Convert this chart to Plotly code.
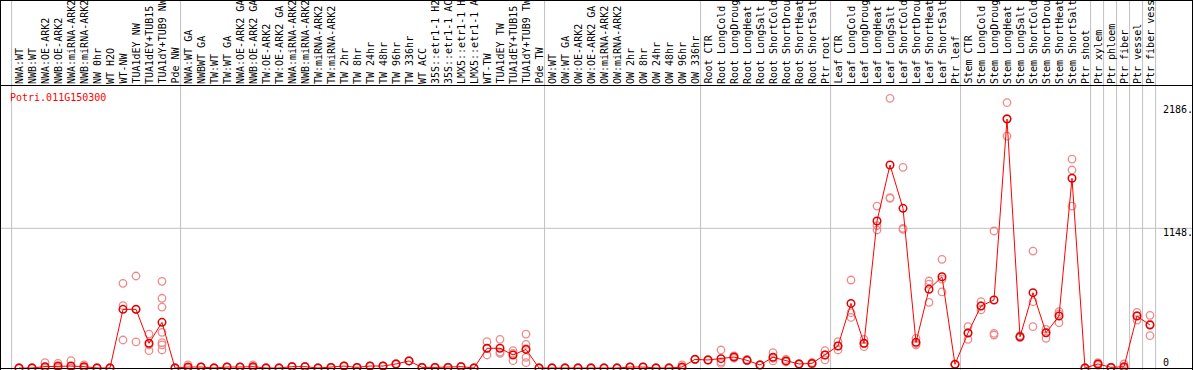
import plotly.graph_objects as go

W, H = 1194, 370

gene_id = "Potri.011G150300"

labels = [
    "NWA:WT", "NWB:WT", "NWA:OE-ARK2", "NWB:OE-ARK2", "NWA:miRNA-ARK2", "NWB:miRNA-ARK2",
    "NW 0hr", "WT H2O", "WT-NW", "TUA1dEY NW", "TUA1dEY+TUB15", "TUA1dY+TUB9 NW", "Pde NW",
    "NWA:WT GA", "NWBWT GA", "TW:WT", "TW:WT GA", "NWA:OE-ARK2 GA", "NWB:OE-ARK2 GA",
    "TW:OE-ARK2", "TW:OE-ARK2 GA", "NWA:miRNA-ARK2", "NWB:miRNA-ARK2", "TW:miRNA-ARK2",
    "TW:miRNA-ARK2", "TW 2hr", "TW 8hr", "TW 24hr", "TW 48hr", "TW 96hr", "TW 336hr", "WT ACC",
    "35S::etr1-1 H2", "35S::etr1-1 AC", "LMX5::etr1-1 H", "LMX5::etr1-1 A", "WT-TW",
    "TUA1dEY TW", "TUA1dEY+TUB15", "TUA1dY+TUB9 TW", "Pde TW",
    "OW:WT", "OW:WT GA", "OW:OE-ARK2", "OW:OE-ARK2 GA", "OW:miRNA-ARK2", "OW:miRNA-ARK2",
    "OW 2hr", "OW 8hr", "OW 24hr", "OW 48hr", "OW 96hr", "OW 336hr",
    "Root CTR", "Root LongCold", "Root LongDroug", "Root LongHeat", "Root LongSalt",
    "Root ShortCold", "Root ShortDrou", "Root ShortHeat", "Root ShortSalt", "Ptr root",
    "Leaf CTR", "Leaf LongCold", "Leaf LongDroug", "Leaf LongHeat", "Leaf LongSalt",
    "Leaf ShortCold", "Leaf ShortDrou", "Leaf ShortHeat", "Leaf ShortSalt", "Ptr leaf",
    "Stem CTR", "Stem LongCold", "Stem LongDroug", "Stem LongHeat", "Stem LongSalt",
    "Stem ShortCold", "Stem ShortDrou", "Stem ShortHeat", "Stem ShortSalt", "Ptr shoot",
    "Ptr xylem", "Ptr phloem", "Ptr fiber", "Ptr vessel", "Ptr fiber vess",
]

mean_values = [
    0, 0, 11, 16, 16, 11, 0, 0, 482, 482, 203, 375, 0,
    8, 8, 0, 8, 8, 11, 0, 0, 11, 11, 0, 5, 16, 5, 16, 16, 33, 58, 5, 5, 5, 11, 0,
    162, 162, 107, 153, 0,
    0, 0, 0, 0, 0, 0, 8, 8, 0, 0, 8, 71,
    66, 77, 90, 63, 25, 88, 58, 33, 38, 107,
    181, 531, 203, 1208, 1668, 1312, 211, 647, 750, 30,
    288, 509, 559, 2046, 257, 619, 290, 427, 1559, 0,
    33, 5, 11, 427, 353,
]

replicates = [
    [0, 0, 0], [0, 0, 0], [44, 0, 0], [38, 8, 0], [60, 0, 0], [25, 8, 0], [0, 0, 0], [0, 0, 0],
    [696, 512, 230], [756, 482, 214], [279, 190, 142], [712, 573, 501, 293, 208, 190, 148],
    [0, 0, 0],
    [25, 0, 0], [8, 8, 8], [0, 0, 0], [8, 8, 8], [8, 8, 8], [25, 8, 0], [0, 0, 0], [0, 0, 0],
    [11, 11, 11], [11, 11, 11], [0, 0, 0], [5, 5, 5], [16, 16, 16], [5, 5, 5], [16, 16, 16],
    [16, 16, 16], [33, 33, 33], [58, 58, 58], [5, 5, 5], [5, 5, 5], [5, 5, 5], [11, 11, 11],
    [0, 0, 0], [216, 162, 107], [236, 130, 121], [142, 120, 60], [279, 194, 160, 88, 44],
    [0, 0, 0],
    [0, 0, 0], [0, 0, 0], [0, 0, 0], [0, 0, 0], [0, 0, 0], [0, 0, 0], [8, 8, 8], [8, 8, 8],
    [0, 0, 0], [0, 0, 0], [25, 0, 0], [71, 71, 71],
    [66, 66, 66], [148, 50, 38], [100, 90, 80], [70, 60, 60], [25, 25, 25], [126, 80, 58],
    [70, 55, 50], [33, 33, 33], [45, 38, 31], [142, 107, 66],
    [216, 181, 148], [723, 455, 416], [236, 200, 175], [1331, 1170, 1134], [2216, 1400, 1394],
    [1649, 1148, 1140], [244, 200, 189], [715, 690, 540], [893, 730, 625], [30, 30, 30],
    [340, 290, 236], [545, 510, 477], [1126, 285, 271], [2180, 2050, 1906], [265, 257, 250],
    [961, 545, 340], [318, 290, 244], [463, 445, 372], [1717, 1627, 1331], [0, 0, 0],
    [44, 33, 22], [5, 5, 5], [33, 0, 0], [457, 430, 394], [433, 360, 266],
]

# group boundaries (after these category indices), plus one before the first
group_ends = [-1, 12, 40, 52, 62, 72, 82, 83, 84, 85, 86, 87]

y_tick_labels = ["2186.", "1148.", "0"]
grid_value = 1148

# ---- pixel geometry helpers (layout only) ----
X0_PX, DX_PX = 19.0, 13.0          # pixel of first category, spacing
Y0_PX, SCALE = 368.0, 0.12169       # pixel of value 0, px per unit


def px(x):
    return x / W


def py(y):
    return 1 - y / H


x_idx = list(range(len(labels)))

rx, ry = [], []
for i, vals in enumerate(replicates):
    for v in vals:
        rx.append(i)
        ry.append(v)

fig = go.Figure()
fig.add_trace(go.Scatter(
    x=rx, y=ry, mode="markers",
    marker=dict(symbol="circle-open", size=7.5, color="#ee8a8a", line=dict(width=1.3)),
    hoverinfo="skip", cliponaxis=False,
))
fig.add_trace(go.Scatter(
    x=x_idx, y=mean_values, mode="lines+markers",
    line=dict(color="#ff0000", width=1),
    marker=dict(symbol="circle-open", size=7.5, color="#e00000", line=dict(width=1.5)),
    cliponaxis=False,
))

shapes = []
for k in group_ends:
    xv = k + 0.5 - 0.07
    shapes.append(dict(type="line", xref="x", yref="paper", x0=xv, x1=xv, y0=0, y1=1,
                       line=dict(color="#c0c0c0", width=1), layer="below"))
shapes.append(dict(type="line", xref="paper", yref="y", x0=px(1), x1=px(1192),
                   y0=grid_value, y1=grid_value,
                   line=dict(color="#c0c0c0", width=1), layer="below"))
blk = dict(color="#000000", width=1)
shapes.append(dict(type="line", xref="paper", yref="paper", x0=px(0), x1=px(1193),
                   y0=py(0.5), y1=py(0.5), line=blk))
shapes.append(dict(type="line", xref="paper", yref="paper", x0=px(0), x1=px(1193),
                   y0=py(85.5), y1=py(85.5), line=blk))
shapes.append(dict(type="line", xref="paper", yref="paper", x0=px(0), x1=px(1193),
                   y0=py(368.5), y1=py(368.5), line=blk))
shapes.append(dict(type="line", xref="paper", yref="paper", x0=px(0.5), x1=px(0.5),
                   y0=0, y1=1, line=blk))
shapes.append(dict(type="line", xref="paper", yref="paper", x0=px(1192.5), x1=px(1192.5),
                   y0=0, y1=1, line=blk))

mono = "DejaVu Sans Mono"
annotations = []
for i, lab in enumerate(labels):
    annotations.append(dict(
        x=i, xref="x", y=py(84), yref="paper", text=lab, showarrow=False,
        textangle=-90, xanchor="center", yanchor="bottom",
        font=dict(family=mono, size=10, color="#000000"),
        borderpad=0, borderwidth=0,
    ))

annotations.append(dict(
    x=px(9), xref="paper", y=py(97.5), yref="paper", text=gene_id, showarrow=False,
    xanchor="left", yanchor="middle", font=dict(family=mono, size=10, color="#ff0000"),
    borderpad=0,
))

for lab, ypix in zip(y_tick_labels, [109, 232.5, 362]):
    annotations.append(dict(
        x=px(1162), xref="paper", y=py(ypix), yref="paper", text=lab, showarrow=False,
        xanchor="left", yanchor="middle", font=dict(family=mono, size=10, color="#000000"),
        borderpad=0,
    ))

fig.update_layout(
    width=W, height=H,
    margin=dict(l=0, r=0, t=0, b=0),
    paper_bgcolor="#ffffff", plot_bgcolor="#ffffff",
    showlegend=False,
    xaxis=dict(range=[-X0_PX / DX_PX, (W - X0_PX) / DX_PX], visible=False, fixedrange=True),
    yaxis=dict(range=[-(H - Y0_PX) / SCALE, Y0_PX / SCALE], visible=False, fixedrange=True),
    shapes=shapes,
    annotations=annotations,
)

fig.write_html(
    "out.html",
    config={"displayModeBar": False},
    post_script="document.body.style.margin='0px';document.body.style.overflow='hidden';",
)
